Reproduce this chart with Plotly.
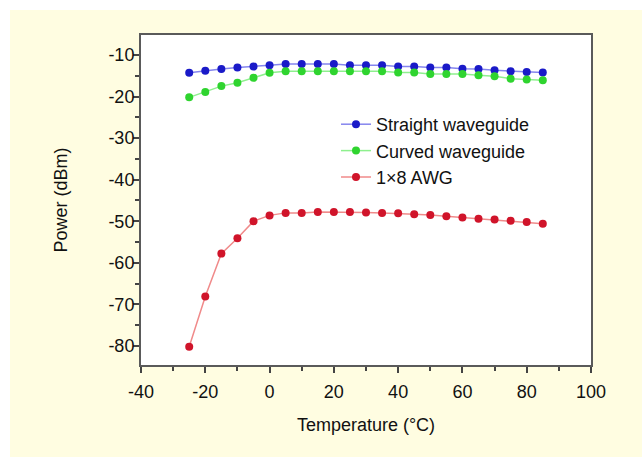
import plotly.graph_objects as go

temperature = [-25, -20, -15, -10, -5, 0, 5, 10, 15, 20, 25, 30, 35, 40, 45, 50, 55, 60, 65, 70, 75, 80, 85]
straight = [-14.3, -13.8, -13.4, -13.0, -12.8, -12.5, -12.2, -12.2, -12.2, -12.2, -12.5, -12.5, -12.5,
            -12.8, -12.8, -13.0, -13.0, -13.3, -13.4, -13.7, -13.9, -14.1, -14.2]
curved = [-20.2, -18.9, -17.5, -16.7, -15.5, -14.3, -13.9, -13.9, -13.9, -13.9, -13.9, -13.9, -13.9,
          -14.2, -14.2, -14.6, -14.6, -14.6, -14.9, -15.1, -15.7, -15.9, -16.1]
awg = [-80.2, -68.1, -57.8, -54.1, -50.0, -48.6, -48.0, -48.0, -47.8, -47.8, -47.8, -47.9, -48.0,
       -48.1, -48.3, -48.5, -48.8, -49.1, -49.4, -49.6, -49.9, -50.2, -50.6]

series_names = ["Straight waveguide", "Curved waveguide", "1\u00d78 AWG"]
x_ticks = [-40, -20, 0, 20, 40, 60, 80, 100]
x_ticklabels = ["-40", "-20", "0", "20", "40", "60", "80", "100"]
y_ticks = [-10, -20, -30, -40, -50, -60, -70, -80]
y_ticklabels = ["-10", "-20", "-30", "-40", "-50", "-60", "-70", "-80"]

styles = [
    dict(line="#8585ee", marker="#1a1ac8"),
    dict(line="#8ef08e", marker="#2fd42f"),
    dict(line="#f08a8a", marker="#d0142a"),
]

fig = go.Figure()
for name, ys, st in zip(series_names, [straight, curved, awg], styles):
    fig.add_trace(go.Scatter(
        x=temperature, y=ys, name=name, mode="lines+markers",
        line=dict(color=st["line"], width=1.5),
        marker=dict(color=st["marker"], size=8),
    ))

FONT = "Liberation Sans, Arial, sans-serif"
W, H = 642, 457
L, R, T, B = 141, 51, 35, 92
pw, ph = W - L - R, H - T - B

axis_common = dict(
    showgrid=False, zeroline=False, showline=True, linecolor="#5a5a5a", linewidth=2,
    mirror=True, ticks="outside", ticklen=6, tickwidth=1.5, tickcolor="#444",
    tickfont=dict(family=FONT, size=18, color="#111"),
)

fig.update_layout(
    width=W, height=H,
    margin=dict(l=L, r=R, t=T, b=B),
    paper_bgcolor="#fffde1", plot_bgcolor="#ffffff",
    font=dict(family=FONT, color="#111"),
    xaxis=dict(range=[-40, 100], tickvals=x_ticks, ticktext=x_ticklabels, ticklabelstandoff=3,
               minor=dict(dtick=10, ticks="outside", ticklen=4, tickcolor="#444"),
               title=dict(text="Temperature (\u00b0C)", font=dict(family=FONT, size=18), standoff=18),
               **axis_common),
    yaxis=dict(range=[-84.6, -5.2], tickvals=y_ticks, ticktext=y_ticklabels, ticklabelstandoff=-5,
               minor=dict(dtick=5, ticks="outside", ticklen=4, tickcolor="#444"),
               title=dict(text="Power (dBm)", font=dict(family=FONT, size=18), standoff=36),
               **axis_common),
    legend=dict(x=(336 - L) / pw, y=1 - (106 - T) / ph, xanchor="left", yanchor="top",
                bgcolor="rgba(0,0,0,0)", font=dict(family=FONT, size=18, color="#111"),
                tracegroupgap=0),
    showlegend=True,
)

# white strips at top and left of the picture
fig.add_shape(type="rect", xref="paper", yref="paper", layer="below",
              x0=-L / pw, x1=(10 - L) / pw, y0=-B / ph, y1=1 + T / ph,
              fillcolor="#ffffff", line=dict(width=0))
fig.add_shape(type="rect", xref="paper", yref="paper", layer="below",
              x0=-L / pw, x1=1 + R / pw, y0=1 + (T - 10) / ph, y1=1 + T / ph,
              fillcolor="#ffffff", line=dict(width=0))

fig.write_html("out.html")
